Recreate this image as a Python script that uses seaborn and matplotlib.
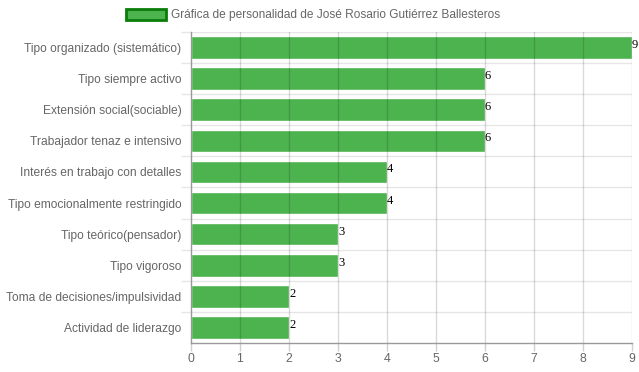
import matplotlib
matplotlib.use('Agg')
import matplotlib.pyplot as plt
import pandas as pd
import seaborn as sns
from matplotlib.patches import Patch

categorias = [
    'Tipo organizado (sistemático)',
    'Tipo siempre activo',
    'Extensión social(sociable)',
    'Trabajador tenaz e intensivo',
    'Interés en trabajo con detalles',
    'Tipo emocionalmente restringido',
    'Tipo teórico(pensador)',
    'Tipo vigoroso',
    'Toma de decisiones/impulsividad',
    'Actividad de liderazgo',
]
valores = [9, 6, 6, 6, 4, 4, 3, 3, 2, 2]
titulo_leyenda = 'Gráfica de personalidad de José Rosario Gutiérrez Ballesteros'

df = pd.DataFrame({'categoria': categorias, 'valor': valores})

sns.set_theme(style='white')
plt.rcParams['font.family'] = ['Liberation Sans', 'DejaVu Sans']

fig = plt.figure(figsize=(6.39, 3.72), dpi=100)
ax = fig.add_axes([0.2989, 0.078, 0.6901, 0.836])

sns.barplot(data=df, x='valor', y='categoria', orient='h', color='#4cb34e',
            saturation=1, width=0.727, ax=ax, zorder=2)

n = len(categorias)
ax.set_xlim(0, 9)
ax.set_ylim(n - 0.5, -0.5)
ax.set_xticks(range(0, 10))
ax.set_yticks([i - 0.5 for i in range(n)], minor=True)
ax.set_xlabel('')
ax.set_ylabel('')
ax.tick_params(axis='x', colors='#d0d0d0', labelcolor='#666666', labelsize=8.8,
               length=5.5, width=1, pad=2, bottom=True)
ax.tick_params(axis='y', which='major', colors='#666666', labelsize=8.65,
               length=0, pad=7)
ax.tick_params(axis='y', which='minor', colors='#e6e6e6', length=7.5,
               width=1, left=True)

# cuadrícula vertical sobre las barras
for v in range(1, 10):
    ax.axvline(v, color='black', alpha=0.15, lw=1, zorder=3)
# separadores horizontales entre categorías
for i in range(n):
    ax.axhline(i - 0.5, color='#e6e6e6', lw=1, zorder=1)

for s in ['top', 'right']:
    ax.spines[s].set_visible(False)
ax.spines['left'].set_color('#999999')
ax.spines['bottom'].set_color('#999999')
ax.spines['left'].set_linewidth(1)
ax.spines['bottom'].set_linewidth(1)

# etiquetas de valor al final de cada barra
for i, v in enumerate(df['valor']):
    ax.text(v, i - 0.08, str(v), ha='left', va='center', fontsize=9,
            family='Liberation Serif', color='black', zorder=4)

handle = Patch(facecolor='#4cb34e', edgecolor='#0a7d0a', linewidth=2)
fig.legend([handle], [titulo_leyenda], loc='upper center',
           bbox_to_anchor=(0.49, 1.005), frameon=False, fontsize=8.6,
           labelcolor='#666666', handlelength=3.4, handleheight=1.0,
           handletextpad=0.4)

fig.savefig('out.png', dpi=100)
